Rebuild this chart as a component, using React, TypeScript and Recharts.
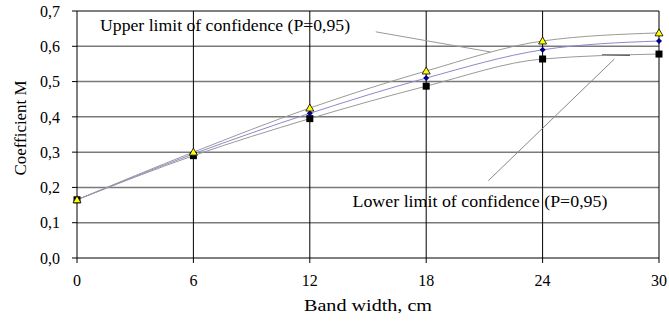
import React from 'react'
import {
  LineChart,
  Line,
  XAxis,
  YAxis,
  CartesianGrid,
  ReferenceLine,
  ReferenceDot,
} from 'recharts'

const bandWidths = [0, 6, 12, 18, 24, 30]
const upperLimit = [0.165, 0.3, 0.425, 0.53, 0.615, 0.638]
const meanValues = [0.165, 0.295, 0.41, 0.51, 0.59, 0.615]
const lowerLimit = [0.165, 0.29, 0.395, 0.487, 0.564, 0.578]

const xTicks = [0, 6, 12, 18, 24, 30]
const yTicks = [0, 0.1, 0.2, 0.3, 0.4, 0.5, 0.6, 0.7]

const upperLabel = 'Upper limit of confidence (P=0,95)'
const lowerLabel = 'Lower limit of confidence (P=0,95)'
const xTitle = 'Band width, cm'
const yTitle = 'Coefficient M'

const datos = bandWidths.map((x, i) => ({
  x,
  upper: upperLimit[i],
  mean: meanValues[i],
  lower: lowerLimit[i],
}))

const fuente = 'Liberation Serif'

const Triangulo = (props: any) => {
  const { cx, cy } = props
  if (cx == null || cy == null) return null
  return (
    <path
      d={`M${cx},${cy - 4} L${cx + 4},${cy + 3} L${cx - 4},${cy + 3} Z`}
      fill="#ffff00"
      stroke="#000"
      strokeWidth={0.8}
    />
  )
}

const Rombo = (props: any) => {
  const { cx, cy } = props
  if (cx == null || cy == null) return null
  return (
    <path
      d={`M${cx},${cy - 3} L${cx + 3},${cy} L${cx},${cy + 3} L${cx - 3},${cy} Z`}
      fill="#000080"
    />
  )
}

const Cuadrado = (props: any) => {
  const { cx, cy } = props
  if (cx == null || cy == null) return null
  return <rect x={cx - 3.5} y={cy - 3.5} width={7} height={7} fill="#000" />
}

const textoAnotacion = (texto: string, largo: number) => (props: any) => {
  const vb = props.viewBox || {}
  return (
    <text
      x={vb.x}
      y={vb.y}
      fontSize={16}
      fontFamily={fuente}
      fill="#000"
      textLength={largo}
      lengthAdjust="spacingAndGlyphs"
    >
      {texto}
    </text>
  )
}

const tituloX = (props: any) => {
  const vb = props.viewBox || {}
  return (
    <text
      x={vb.x + vb.width / 2 - 64}
      y={vb.y + 53}
      fontSize={16}
      fontFamily={fuente}
      fill="#000"
      textLength={128}
      lengthAdjust="spacingAndGlyphs"
    >
      {xTitle}
    </text>
  )
}

const tituloY = (props: any) => {
  const vb = props.viewBox || {}
  const cx = 26
  const cy = vb.y + vb.height / 2 - 6
  return (
    <text
      x={cx - 47}
      y={cy}
      transform={`rotate(-90, ${cx}, ${cy})`}
      fontSize={16}
      fontFamily={fuente}
      fill="#000"
      textLength={95}
      lengthAdjust="spacingAndGlyphs"
    >
      {yTitle}
    </text>
  )
}

export default function App() {
  return (
    <div style={{ position: 'absolute', left: 0, top: 0, background: '#fff' }}>
      <LineChart
        width={669}
        height={325}
        data={datos}
        margin={{ top: 11, right: 10, left: 0, bottom: 0 }}
      >
        <CartesianGrid
          vertical={false}
          stroke="#7a7a7a"
          strokeWidth={1.5}
          horizontalValues={[0.1, 0.2, 0.3, 0.4, 0.5, 0.6]}
        />
        <CartesianGrid
          horizontal={false}
          stroke="#000"
          strokeWidth={1}
          verticalValues={[6, 12, 18, 24, 30]}
        />
        <ReferenceLine y={0.7} stroke="#000" strokeWidth={1} />
        <XAxis
          dataKey="x"
          type="number"
          domain={[0, 30]}
          ticks={xTicks}
          stroke="#000"
          tickSize={5}
          tickMargin={12}
          height={67}
          tick={{ fontSize: 16, fontFamily: fuente, fill: '#000' }}
          label={{ content: tituloX }}
        />
        <YAxis
          type="number"
          domain={[0, 0.7]}
          ticks={yTicks}
          width={77}
          stroke="#000"
          tickSize={5}
          tickMargin={12}
          tickFormatter={(v: number) => v.toFixed(1).replace('.', ',')}
          tick={{ fontSize: 16, fontFamily: fuente, fill: '#000' }}
          label={{ content: tituloY }}
        />
        <ReferenceLine
          segment={[{ x: 15.4, y: 0.641 }, { x: 21.3, y: 0.584 }]}
          stroke="#999"
          strokeWidth={1}
        />
        <ReferenceLine
          segment={[{ x: 21.2, y: 0.219 }, { x: 27.7, y: 0.564 }]}
          stroke="#888"
          strokeWidth={1}
        />
        <ReferenceLine
          segment={[{ x: 27.06, y: 0.575 }, { x: 28.5, y: 0.575 }]}
          stroke="#000"
          strokeWidth={1.2}
        />
        <Line
          type="monotone"
          dataKey="lower"
          stroke="#9a9a9a"
          strokeWidth={1}
          dot={<Cuadrado />}
          activeDot={false}
          isAnimationActive={false}
        />
        <Line
          type="monotone"
          dataKey="mean"
          stroke="#8a8ad0"
          strokeWidth={1}
          dot={<Rombo />}
          activeDot={false}
          isAnimationActive={false}
        />
        <Line
          type="monotone"
          dataKey="upper"
          stroke="#9a9a9a"
          strokeWidth={1}
          dot={<Triangulo />}
          activeDot={false}
          isAnimationActive={false}
        />
        <ReferenceDot
          x={1.19}
          y={0.644}
          r={0}
          fill="none"
          stroke="none"
          label={{ content: textoAnotacion(upperLabel, 250) }}
        />
        <ReferenceDot
          x={14.2}
          y={0.145}
          r={0}
          fill="none"
          stroke="none"
          label={{ content: textoAnotacion(lowerLabel, 255) }}
        />
      </LineChart>
    </div>
  )
}
